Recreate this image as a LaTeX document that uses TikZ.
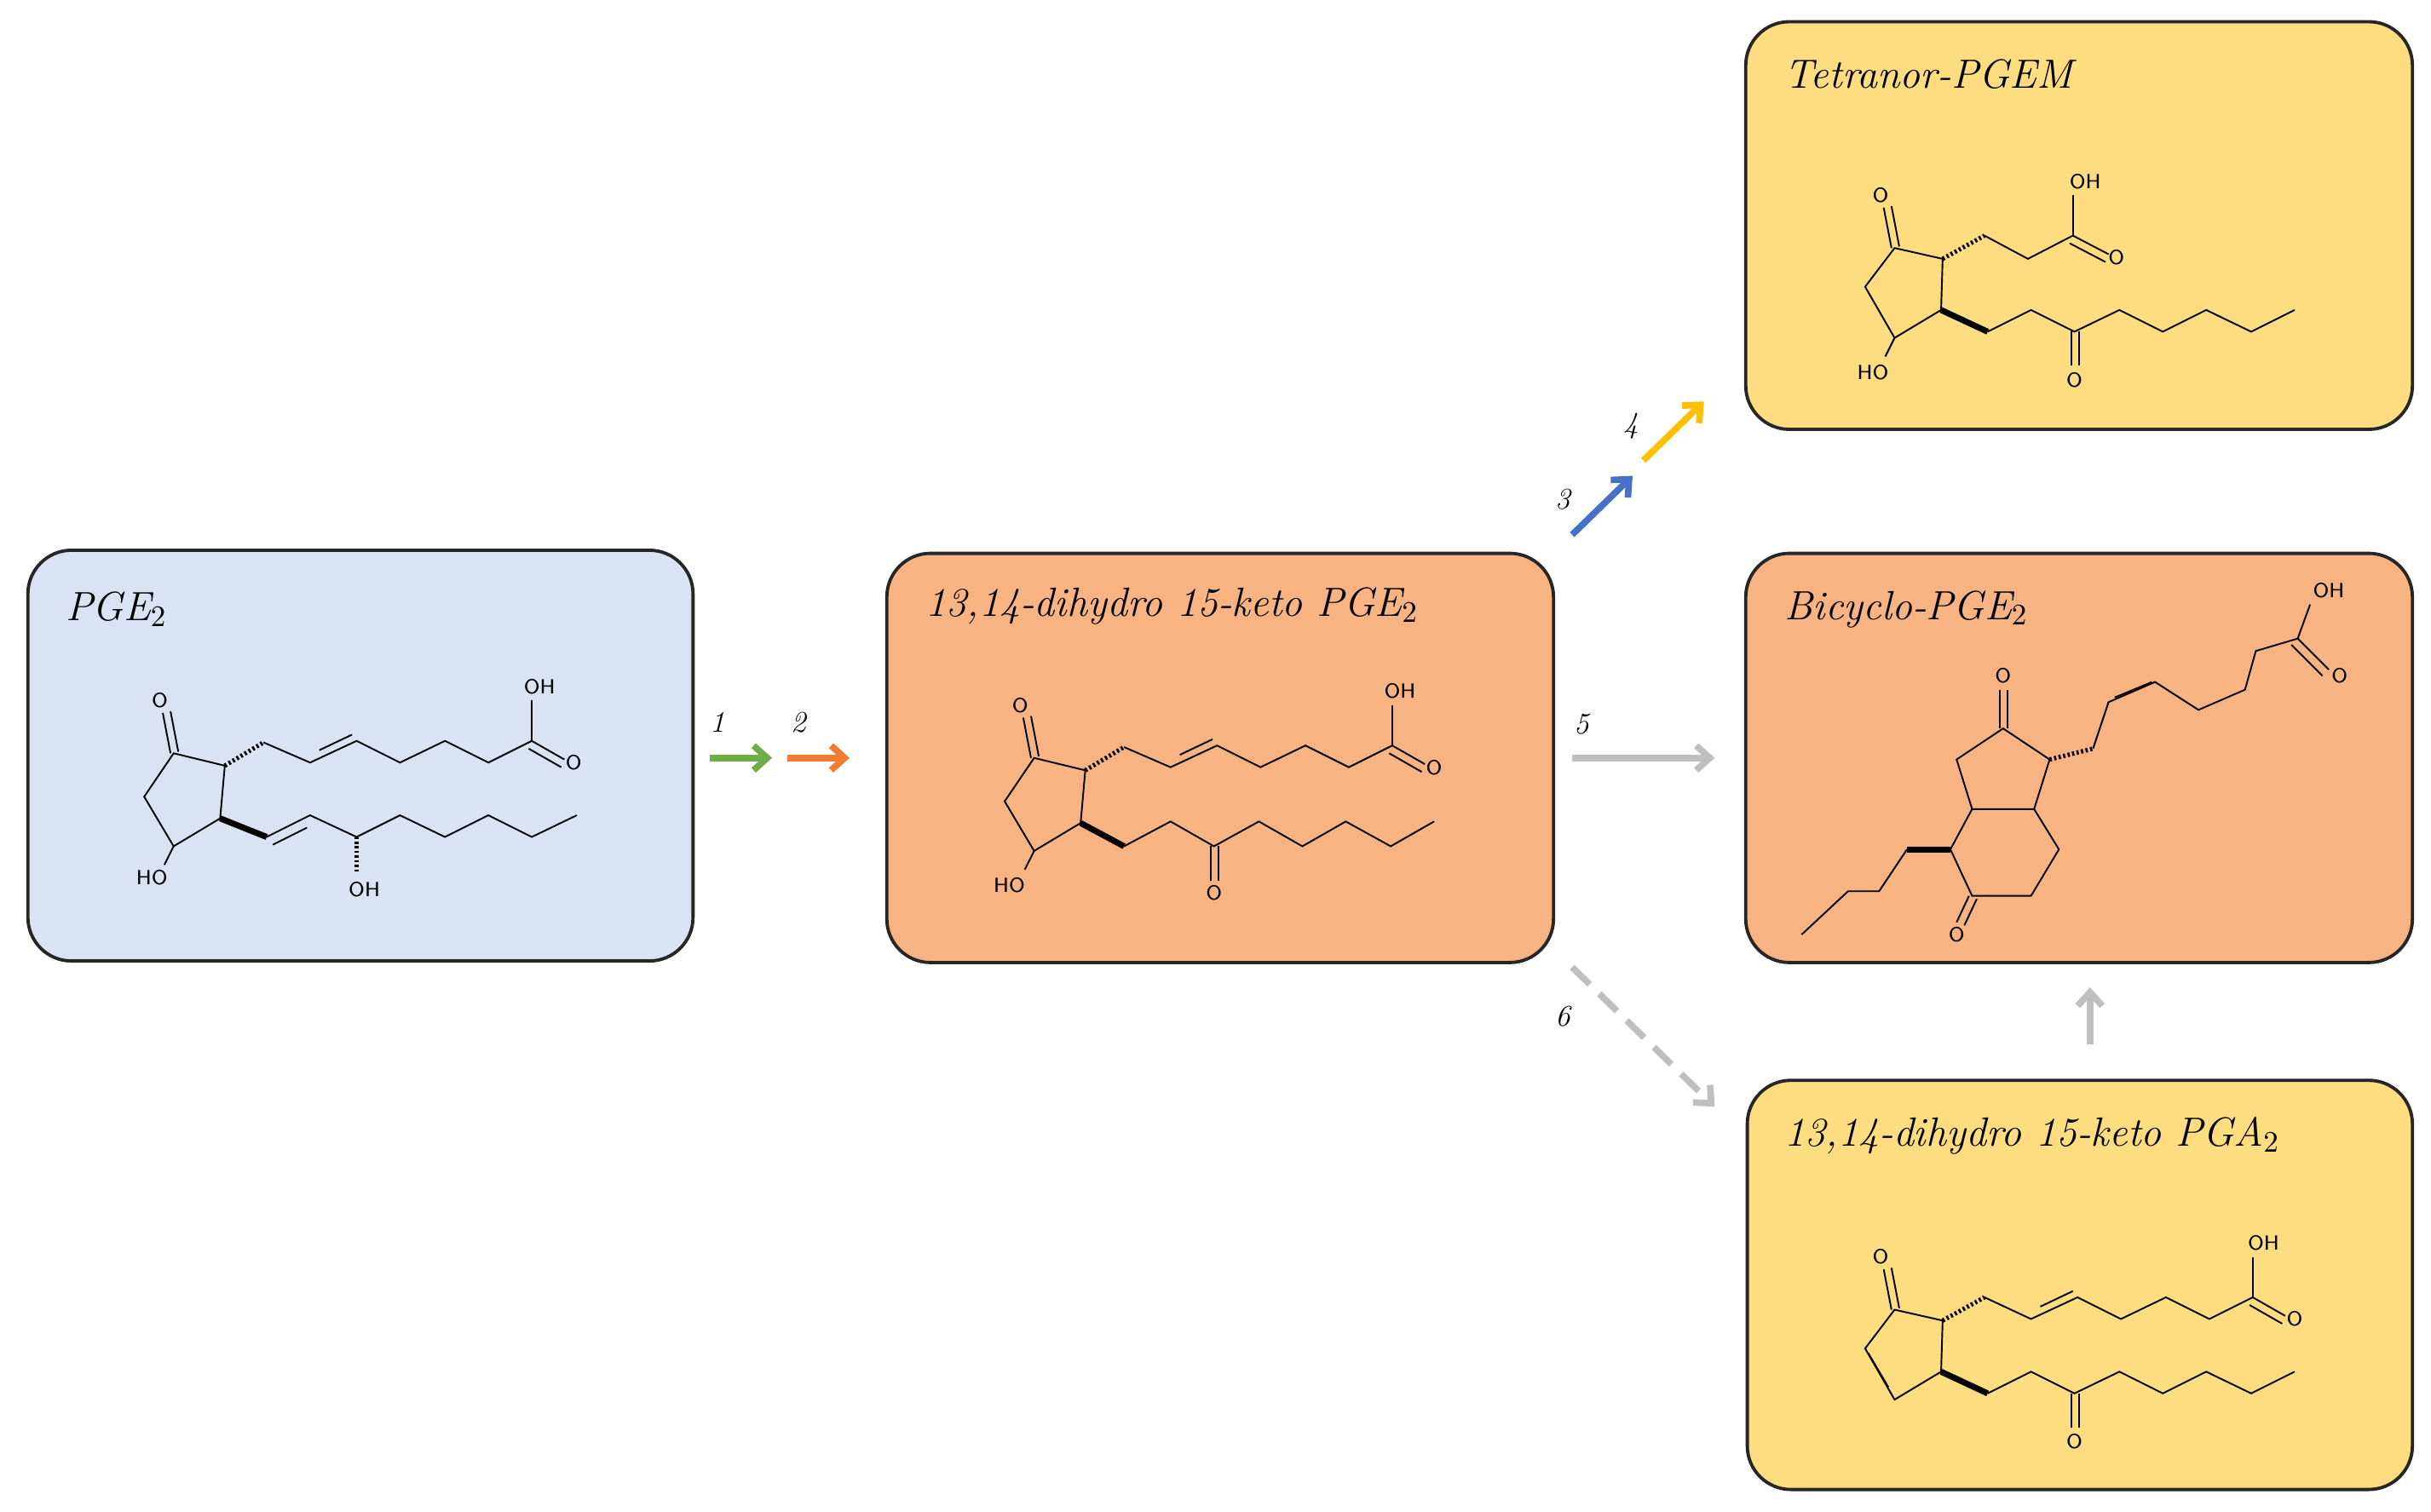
\documentclass[tikz,border=0pt]{standalone}
\usetikzlibrary{arrows.meta}
\definecolor{bblue}{HTML}{DAE3F3}
\definecolor{borange}{HTML}{F8B382}
\definecolor{byellow}{HTML}{FEDC80}
\definecolor{agreen}{HTML}{70AD47}
\definecolor{aorange}{HTML}{ED7D31}
\definecolor{ablue}{HTML}{4472C4}
\definecolor{ayellow}{HTML}{FFC000}
\definecolor{agray}{HTML}{BFBFBF}
\tikzset{
 box/.style={draw=black!85,line width=1.2pt,rounded corners=16pt},
 ttl/.style={anchor=west,font=\fontsize{15}{18}\selectfont\itshape,inner sep=0pt},
 bd/.style={line width=0.6pt},
 hsh/.style={dash pattern=on 0.8pt off 0.9pt,line width=1.6pt},
 wdg/.style={line width=2.2pt},
 atom/.style={font=\sffamily\fontsize{7.5}{8}\selectfont,inner sep=0.5pt},
 arr/.style={line width=2.4pt,-{Straight Barb[length=5pt,width=9pt]}},
 num/.style={font=\fontsize{11}{12}\selectfont\itshape}
}
\begin{document}
\begin{tikzpicture}[x=0.02cm,y=-0.02cm]
\useasboundingbox (0,0) rectangle (1568,975);
% boxes
\draw[box,fill=bblue] (18,355) rectangle (447,620);
\draw[box,fill=borange] (572,357) rectangle (1002,621);
\draw[box,fill=byellow] (1126,14) rectangle (1556,277);
\draw[box,fill=borange] (1126,357) rectangle (1556,621);
\draw[box,fill=byellow] (1127,697) rectangle (1556,961);
\node[ttl] (t1) at (42,393) {PGE$_2$};
\node[ttl] (t2) at (597,391) {13,14-dihydro 15-keto PGE$_2$};
\node[ttl] (t3) at (1151,48) {Tetranor-PGEM};
\node[ttl] (t4) at (1151,393) {Bicyclo-PGE$_2$};
\node[ttl] (t5) at (1151,733) {13,14-dihydro 15-keto PGA$_2$};
% ---- PGE2
\begin{scope}
\draw[bd] (112,486)--(145,494)--(142,528)--(112,546)--(93,514)--cycle;
\draw[bd] (110,486)--(105,460); \draw[bd] (115,485)--(110,459);
\node[atom] at (103,452) {O};
\draw[bd] (112,546)--(106,558); \node[atom] at (98,566) {HO};
\draw[hsh] (145,494)--(170,479);
\draw[bd] (170,479)--(200,492)--(230,478)--(258,492)--(287,478)--(315,492)--(343,478);
\draw[bd] (206,484)--(227,474);
\draw[bd] (343,478)--(343,452); \node[atom] at (348,443) {OH};
\draw[bd] (343,478)--(364,490); \draw[bd] (341,483)--(362,495);\node[atom] at (370,492) {O};
\draw[wdg] (142,528)--(172,540);
\draw[bd] (172,540)--(200,526)--(230,540)--(258,526)--(287,540)--(315,526)--(343,540)--(372,526);
\draw[bd] (176,545)--(198,534);
\draw[hsh] (230,540)--(230,562); \node[atom] at (235,574) {OH};
\end{scope}
% ---- middle
\begin{scope}[shift={(555,3)}]
\draw[bd] (112,486)--(145,494)--(142,528)--(112,546)--(93,514)--cycle;
\draw[bd] (110,486)--(105,460); \draw[bd] (115,485)--(110,459);
\node[atom] at (103,452) {O};
\draw[bd] (112,546)--(106,558); \node[atom] at (96,568) {HO};
\draw[hsh] (145,494)--(170,479);
\draw[bd] (170,479)--(200,492)--(230,478)--(258,492)--(287,478)--(315,492)--(343,478);
\draw[bd] (206,484)--(227,474);
\draw[bd] (343,478)--(343,452); \node[atom] at (348,443) {OH};
\draw[bd] (343,478)--(364,490); \draw[bd] (341,483)--(362,495);\node[atom] at (370,492) {O};
\draw[wdg] (142,528)--(170,543);
\draw[bd] (170,543)--(200,527)--(228,543)--(257,527)--(285,543)--(313,527)--(342,543)--(370,527);
\draw[bd] (226,543)--(226,565); \draw[bd] (231,543)--(231,565); \node[atom] at (228,573) {O};
\end{scope}
% ---- tetranor
\begin{scope}[shift={(1110,-326)}]
\draw[bd] (112,486)--(143,493)--(142,526)--(112,544)--(93,511)--cycle;
\draw[bd] (110,486)--(105,460); \draw[bd] (115,485)--(110,459);
\node[atom] at (103,452) {O};
\draw[bd] (112,544)--(106,556); \node[atom] at (98,566) {HO};
\draw[hsh] (143,493)--(170,478);
\draw[bd] (170,478)--(198,493)--(227,478);
\draw[bd] (227,478)--(227,452); \node[atom] at (235,443) {OH};
\draw[bd] (227,478)--(250,490); \draw[bd] (225,483)--(248,495); \node[atom] at (255,492) {O};
\draw[wdg] (142,526)--(172,540);
\draw[bd] (172,540)--(200,526)--(228,540)--(257,526)--(285,540)--(313,526)--(342,540)--(370,526);
\draw[bd] (226,540)--(226,562); \draw[bd] (231,540)--(231,562); \node[atom] at (228,571) {O};
\end{scope}
% ---- PGA2
\begin{scope}[shift={(1110,359)}]
\draw[bd] (112,486)--(143,493)--(142,526)--(112,544)--(93,511)--cycle;
\draw[bd] (108,536)--(95,514);
\draw[bd] (110,486)--(105,460); \draw[bd] (115,485)--(110,459);
\node[atom] at (103,452) {O};
\draw[hsh] (143,493)--(170,478);
\draw[bd] (170,478)--(200,492)--(230,478)--(258,492)--(287,478)--(315,492)--(343,478);
\draw[bd] (206,484)--(227,474);
\draw[bd] (343,478)--(343,452); \node[atom] at (350,443) {OH};
\draw[bd] (343,478)--(364,490); \draw[bd] (341,483)--(362,495);\node[atom] at (370,492) {O};
\draw[wdg] (142,526)--(172,540);
\draw[bd] (172,540)--(200,526)--(228,540)--(257,526)--(285,540)--(313,526)--(342,540)--(370,526);
\draw[bd] (226,540)--(226,562); \draw[bd] (231,540)--(231,562); \node[atom] at (228,571) {O};
\end{scope}
% ---- bicyclo
\draw[bd] (1292,470)--(1322,490)--(1312,522)--(1272,522)--(1262,490)--cycle;
\draw[bd] (1290,470)--(1290,445); \draw[bd] (1295,470)--(1295,445); \node[atom] at (1292,436) {O};
\draw[bd] (1272,522)--(1258,548)--(1272,578)--(1310,578)--(1328,548)--(1312,522);
\draw[bd] (1270,578)--(1262,595); \draw[bd] (1275,580)--(1267,597); \node[atom] at (1262,603) {O};
\draw[wdg] (1258,548)--(1230,548);
\draw[bd] (1230,548)--(1212,575)--(1192,575)--(1162,603);
\draw[hsh] (1322,490)--(1350,483);
\draw[bd] (1350,483)--(1360,453)--(1390,440)--(1418,458)--(1448,445)--(1455,420)--(1482,412);
\draw[bd] (1364,450)--(1388,440);
\draw[bd] (1482,412)--(1490,390); \node[atom] at (1502,381) {OH};
\draw[bd] (1482,412)--(1502,432); \draw[bd] (1478,416)--(1498,436); \node[atom] at (1509,436) {O};
% ---- arrows
\coordinate (g1) at (458,489); \coordinate (g2) at (498,489);
\coordinate (o1) at (508,489); \coordinate (o2) at (548,489);
\draw[arr,agreen] (g1)--(g2); \draw[arr,aorange] (o1)--(o2);
\node[num] at (463,466) {1}; \node[num] at (515,466) {2};
\coordinate (b1) at (1014,345); \coordinate (b2) at (1053,307);
\coordinate (y1) at (1060,297); \coordinate (y2) at (1099,259);
\draw[arr,ablue] (b1)--(b2); \draw[arr,ayellow] (y1)--(y2);
\node[num] at (1008,322) {3}; \node[num] at (1052,275) {4};
\coordinate (f1) at (1014,489); \coordinate (f2) at (1106,489);
\draw[arr,agray] (f1)--(f2); \node[num] at (1020,467) {5};
\coordinate (s1) at (1014,624); \coordinate (s2) at (1106,714);
\draw[arr,agray,dash pattern=on 9pt off 5pt] (s1)--(s2); \node[num] at (1008,656) {6};
\coordinate (u1) at (1348,674); \coordinate (u2) at (1348,637);
\draw[arr,agray] (u1)--(u2);
\end{tikzpicture}
\end{document}
